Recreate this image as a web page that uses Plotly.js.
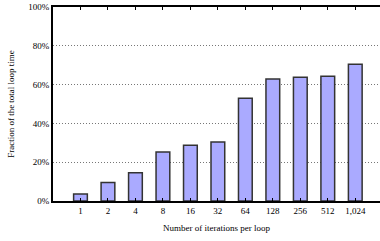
<!DOCTYPE html>
<html><head><meta charset="utf-8">
<script src="https://cdn.plot.ly/plotly-3.0.1.min.js"></script>
<style>html,body{margin:0;padding:0;background:#fff}#c{width:380px;height:241px}</style>
</head><body><div id="c"></div>
<script>
const categories = ['1','2','4','8','16','32','64','128','256','512','1,024'];
const fractions = [3.6, 9.6, 14.6, 25.3, 28.7, 30.4, 52.9, 62.9, 63.8, 64.3, 70.5];
const yTicks = [0, 20, 40, 60, 80, 100];
const yTickLabels = ['0%', '20%', '40%', '60%', '80%', '100%'];

const font = {family: 'Liberation Serif, Times New Roman, serif', size: 9, color: '#000'};
Plotly.newPlot('c', [{
  type: 'bar',
  x: categories,
  y: fractions,
  width: 0.5,
  marker: {color: '#aaaaff', line: {color: '#333', width: 1.5}},
  hoverinfo: 'skip'
}], {
  width: 380, height: 241,
  margin: {l: 53, r: 0, t: 7, b: 40},
  paper_bgcolor: '#fff', plot_bgcolor: '#fff',
  font: font,
  showlegend: false,
  xaxis: {
    type: 'category', range: [-1, 10.9],
    showline: true, linecolor: '#000', linewidth: 2, mirror: 'ticks',
    ticks: 'inside', ticklen: 3, tickcolor: '#000', tickwidth: 1,
    showgrid: false, zeroline: false,
    tickfont: font,
    title: {text: 'Number of iterations per loop', font: font, standoff: 10}
  },
  yaxis: {
    range: [0, 100], tickmode: 'array', tickvals: yTicks, ticktext: yTickLabels,
    showline: true, linecolor: '#000', linewidth: 2,
    ticks: '', showgrid: true, gridcolor: '#777', griddash: '1px,2px', gridwidth: 1,
    zeroline: false, tickfont: font,
    title: {text: 'Fraction of the total loop time', font: font, standoff: 12}
  }
}, {staticPlot: true});
</script></body></html>
